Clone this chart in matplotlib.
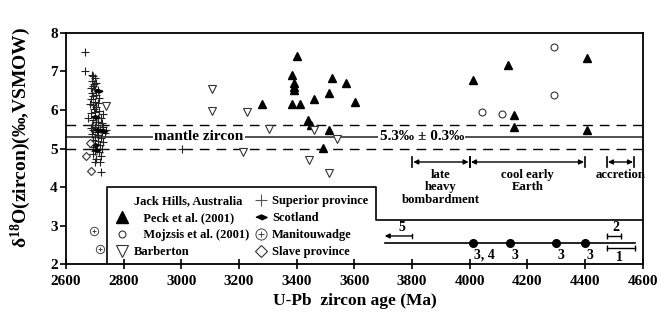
import matplotlib
matplotlib.use('Agg')
import matplotlib.pyplot as plt
from matplotlib.lines import Line2D

plt.rcParams['font.family'] = ['Liberation Serif', 'DejaVu Serif']
plt.rcParams['font.weight'] = 'bold'
plt.rcParams['mathtext.fontset'] = 'custom'
plt.rcParams['mathtext.rm'] = 'Liberation Serif:bold'
plt.rcParams['mathtext.it'] = 'Liberation Serif:bold:italic'
plt.rcParams['mathtext.bf'] = 'Liberation Serif:bold'

# Jack Hills, Peck et al. (2001)
peck_age = [3400, 3382, 3391, 3391, 3391, 3382, 3411, 3280, 3461, 3511, 3440, 3448,
            3492, 3511, 3523, 3571, 3601, 4012, 4133, 4153, 4153, 4408, 4408]
peck_d18o = [7.40, 6.90, 6.70, 6.60, 6.52, 6.15, 6.15, 6.15, 6.29, 6.45, 5.74, 5.61,
             5.02, 5.48, 6.84, 6.71, 6.21, 6.78, 7.18, 5.87, 5.57, 7.36, 5.48]
# Jack Hills, Mojzsis et al. (2001)
mojzsis_age = [4044, 4110, 4291, 4291]
mojzsis_d18o = [5.96, 5.90, 7.64, 6.39]
# Barberton
barb_age = [2739, 3106, 3106, 3228, 3304, 3215, 3461, 3443, 3538, 3511]
barb_d18o = [6.11, 6.54, 5.98, 5.95, 5.50, 4.90, 5.48, 4.70, 5.24, 4.37]
# Superior province
sup_age = [2666, 2666, 2695, 2700, 2690, 2705, 2693, 2685, 2700, 2710, 2690, 2705,
           2695, 2688, 2700, 2712, 2692, 2705, 2698, 2715, 2688, 2700, 2678, 2710,
           2720, 2695, 2705, 2725, 2690, 2712, 2700, 2730, 2718, 2695, 2708, 2725,
           2735, 2690, 2712, 2700, 2722, 2695, 2710, 2730, 2700, 2718, 2692, 2708,
           2725, 2700, 2715, 2695, 2720, 2705, 2700, 2718, 2722, 2690, 2698, 2683,
           2716, 2702, 2728, 2712, 2686, 2738, 3001]
sup_d18o = [7.50, 7.02, 6.88, 6.82, 6.75, 6.70, 6.62, 6.58, 6.55, 6.52, 6.45, 6.40,
            6.35, 6.28, 6.22, 6.18, 6.12, 6.08, 6.02, 5.98, 5.92, 5.85, 5.80, 5.80,
            5.78, 5.75, 5.70, 5.66, 5.62, 5.60, 5.55, 5.55, 5.50, 5.47, 5.44, 5.42,
            5.40, 5.38, 5.35, 5.30, 5.28, 5.22, 5.20, 5.18, 5.12, 5.08, 5.05, 5.00,
            4.98, 4.93, 4.90, 4.85, 4.80, 4.72, 4.65, 4.65, 4.38, 6.90, 6.68, 6.15,
            6.30, 5.95, 5.90, 5.68, 5.52, 5.48, 4.98]
# Scotland
scot_age = [2700, 2708, 2728, 2700, 2705, 2712]
scot_d18o = [5.82, 5.48, 5.45, 5.08, 4.95, 6.50]
# Manitouwadge
mani_age = [2697, 2718]
mani_d18o = [2.86, 2.40]
# Slave province
slave_age = [2683, 2668, 2688]
slave_d18o = [5.14, 4.81, 4.42]

mantle = 5.3
mantle_err = 0.3

periods = [(3800, 4000), (4000, 4400), (4475, 4570)]
period_names = ['late\nheavy\nbombardment', 'cool early\nEarth', 'accretion']
event_age = [4010, 4140, 4300, 4400]
event_refs = ['3, 4', '3', '3', '3']

fig = plt.figure(figsize=(6.6, 3.36), dpi=100)
ax = fig.add_axes([0.1, 0.214, 0.874, 0.688])

# mantle zircon band
ax.axhline(mantle, color='#333333', lw=1.2, zorder=1)
for y in (mantle - mantle_err, mantle + mantle_err):
    ax.axhline(y, color='black', lw=1.0, dashes=(7, 5), zorder=1)
box = dict(facecolor='white', edgecolor='none', pad=1)
ax.text(3061, mantle, 'mantle zircon', ha='center', va='center', fontsize=11,
        bbox=box, zorder=2)
ax.text(3834, mantle, '5.3‰ ± 0.3‰', ha='center', va='center', fontsize=11,
        bbox=box, zorder=2)

ax.plot(sup_age, sup_d18o, '+', color='#222222', ms=5.5, mew=0.8, zorder=3)
ax.plot(scot_age, scot_d18o, marker=[(-1, 0), (0, 0.45), (1, 0), (0, -0.45)],
        ls='none', color='black', ms=6, zorder=4)
ax.plot(peck_age, peck_d18o, '^', color='black', ms=5.5, zorder=4)
ax.plot(mojzsis_age, mojzsis_d18o, 'o', mfc='white', mec='#333333', ms=5, mew=0.8, zorder=4)
ax.plot(barb_age, barb_d18o, 'v', mfc='white', mec='#333333', ms=5.5, mew=0.8, zorder=4)
ax.plot(slave_age, slave_d18o, 'D', mfc='white', mec='#333333', ms=3.8, mew=0.8, zorder=4)
ax.plot(mani_age, mani_d18o, 'o', mfc='white', mec='#444444', ms=6, mew=0.7, zorder=4)
ax.plot(mani_age, mani_d18o, '+', color='#444444', ms=3.5, mew=0.7, zorder=5)

# legend frame and timeline frame
ax.plot([2742, 2742, 3675, 3675, 4600], [2, 4.0, 4.0, 3.15, 3.15], color='black', lw=1.2)

h_blank = Line2D([], [], ls='none')
h_peck = Line2D([], [], marker='^', ls='none', color='black', ms=8)
h_moj = Line2D([], [], marker='o', ls='none', mfc='white', mec='#333333', ms=5, mew=0.8)
h_barb = Line2D([], [], marker='v', ls='none', mfc='white', mec='#333333', ms=8, mew=0.8)
h_sup = Line2D([], [], marker='+', ls='none', color='#555555', ms=9, mew=0.8)
h_scot = Line2D([], [], marker=[(-1, 0), (0, 0.45), (1, 0), (0, -0.45)], ls='none',
                color='black', ms=8)
h_mani = (Line2D([], [], marker='o', ls='none', mfc='white', mec='#444444', ms=8, mew=0.7),
          Line2D([], [], marker='+', ls='none', color='#444444', ms=5, mew=0.7))
h_slave = Line2D([], [], marker='D', ls='none', mfc='white', mec='#333333', ms=6, mew=0.8)
handles = [h_blank, h_peck, h_moj, h_barb, h_sup, h_scot, h_mani, h_slave]
labels = ['Jack Hills, Australia', '   Peck et al. (2001)', '   Mojzsis et al. (2001)',
          'Barberton', 'Superior province', 'Scotland', 'Manitouwadge', 'Slave province']
leg = ax.legend(handles, labels, ncol=2, loc='upper left', frameon=False,
                handlelength=1.0, handletextpad=0.4, columnspacing=0.45,
                labelspacing=0.4, borderpad=0, prop={'weight': 'bold', 'size': 9})
leg.set_bbox_to_anchor((2752, 3.95), transform=ax.transData)

# period arrows
for (a, b), name in zip(periods, period_names):
    ax.annotate('', xy=(a + 4, 4.65), xytext=(b - 4, 4.65),
                arrowprops=dict(arrowstyle='<|-|>', color='black', lw=1.0,
                                mutation_scale=7, shrinkA=0, shrinkB=0))
    ax.plot([a, a], [4.52, 4.78], color='black', lw=1.2)
    ax.plot([b, b], [4.52, 4.78], color='black', lw=1.2)
    ax.text((a + b) / 2, 4.47, name, ha='center', va='top', fontsize=9.2,
            linespacing=1.05)

# timeline
ax.plot([3706, 4572], [2.55, 2.55], color='black', lw=1.2)
ax.plot(event_age, [2.55] * len(event_age), 'o', color='black', ms=5.5)
for x, r in zip(event_age, event_refs):
    ax.text(x + 40 if r == '3, 4' else x + 15, 2.4, r, ha='center', va='top', fontsize=10)
ax.annotate('', xy=(3705, 2.73), xytext=(3800, 2.73),
            arrowprops=dict(arrowstyle='-|>', color='black', lw=1.0, mutation_scale=7,
                            shrinkA=0, shrinkB=0))
ax.plot([3800, 3800], [2.68, 2.78], color='black', lw=1.0)
ax.text(3765, 2.78, '5', ha='center', va='bottom', fontsize=10)
ax.plot([4475, 4524], [2.73, 2.73], color='black', lw=1.0, marker='|', ms=4)
ax.text(4505, 2.78, '2', ha='center', va='bottom', fontsize=10)
ax.plot([4475, 4572], [2.42, 2.42], color='black', lw=1.0, marker='|', ms=4)
ax.text(4520, 2.33, '1', ha='center', va='top', fontsize=10)

ax.set_xlim(2600, 4600)
ax.set_ylim(2, 8)
ax.set_xticks(range(2600, 4601, 200))
ax.set_yticks(range(2, 9))
ax.tick_params(axis='x', direction='inout', length=7, width=1.2, labelsize=11, pad=4)
ax.tick_params(axis='y', direction='out', length=4, width=1.2, labelsize=11, pad=2)
for lab in ax.get_xticklabels() + ax.get_yticklabels():
    lab.set_fontweight('bold')
for s in ax.spines.values():
    s.set_linewidth(1.3)

ax.set_xlabel('U-Pb  zircon age (Ma)', fontsize=12.5, fontweight='bold', labelpad=4)
ax.set_ylabel('δ$^{18}$O(zircon)(‰,VSMOW)', fontsize=14, fontweight='bold')
ax.yaxis.set_label_coords(-0.058, 0.55)

fig.savefig('out.png', dpi=100)
